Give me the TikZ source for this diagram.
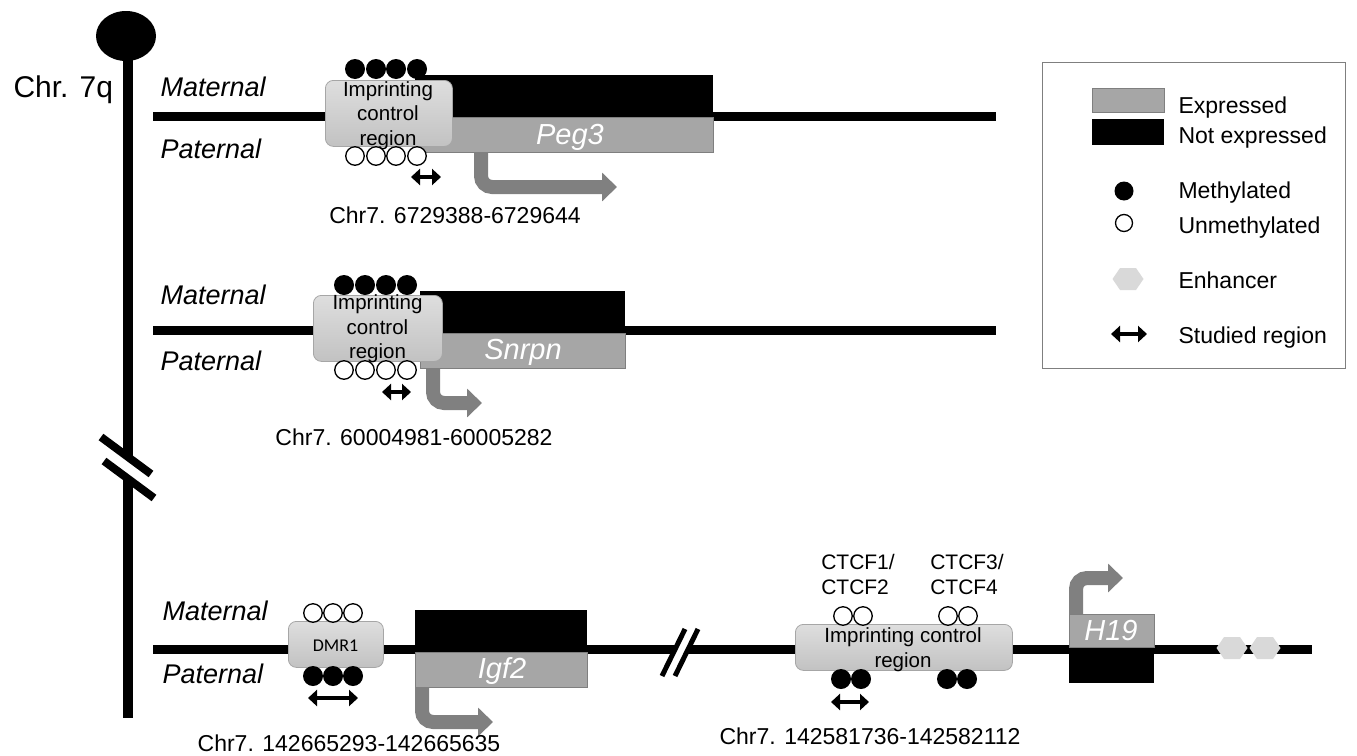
\documentclass[tikz,border=0pt]{standalone}
\usepackage{fontspec}
\setmainfont{Liberation Sans}
\newfontfamily\calibfont{Carlito}
\usetikzlibrary{arrows.meta,shapes.geometric}
\definecolor{exprc}{HTML}{A6A6A6}
\definecolor{exprb}{HTML}{7F7F7F}
\definecolor{promc}{HTML}{808080}
\definecolor{enhc}{HTML}{D9D9D9}
\definecolor{icrtop}{HTML}{DEDEDE}
\definecolor{icrbot}{HTML}{C2C2C2}
\definecolor{icrb}{HTML}{A6A6A6}
\tikzset{
  chrline/.style={line width=9pt},
  gexp/.style={fill=exprc, draw=exprb, line width=1pt, inner sep=0pt, anchor=north west},
  gnot/.style={fill=black, inner sep=0pt, anchor=north west},
  icrbox/.style={rounded corners=8pt, draw=icrb, line width=0.8pt, top color=icrtop, bottom color=icrbot, inner sep=0pt, anchor=north west},
  mdot/.style={circle, fill=black, minimum size=20pt, inner sep=0pt},
  udot/.style={circle, draw=black, fill=white, line width=1.3pt, minimum size=18.5pt, inner sep=0pt},
  studied/.style={line width=4pt, {Triangle[length=9pt,width=16pt]}-{Triangle[length=9pt,width=16pt]}},
  promarrow/.style={draw=promc, line width=14pt, rounded corners=11pt, -{Triangle[length=15pt,width=28pt]}},
  genelabel/.style={text=white, font=\fontsize{29}{29}\selectfont\itshape},
  parent/.style={font=\fontsize{27}{27}\selectfont\itshape, anchor=base west},
  icrtext/.style={font=\fontsize{20.5}{24.5}\selectfont, align=center},
  coord/.style={font=\fontsize{23}{23}\selectfont},
  legtext/.style={font=\fontsize{23}{23}\selectfont, anchor=base west},
  enhancer/.pic={\fill[enhc] (-15.5,0) -- (-8,-11) -- (8,-11) -- (15.5,0) -- (8,11) -- (-8,11) -- cycle;}
}
\begin{document}
\begin{tikzpicture}[x=1pt,y=-1pt]
\useasboundingbox (0,0) rectangle (1357,755);

% ---------------- chromosome ----------------
\coordinate (ctop) at (128,37);
\coordinate (cbot) at (128,718);
\draw[line width=10pt] (ctop) -- (cbot);
\fill (126,36) ellipse [x radius=30, y radius=25];
\fill[white] (102,438) -- (150,473) -- (153,497) -- (105,462) -- cycle;
\draw[line width=8pt] (101,437) -- (151,474);
\draw[line width=8pt] (104,461) -- (154,498);
\node[font=\fontsize{30}{30}\selectfont, anchor=base west] (chr) at (10,97) {Chr. 7q};

% ---------------- panel 1: Peg3 ----------------
\coordinate (l1a) at (153,116);
\coordinate (l1b) at (996,116);
\draw[chrline] (l1a) -- (l1b);
\node[gnot, minimum width=298pt, minimum height=42pt] (peg3m) at (415,75) {};
\node[gexp, minimum width=298pt, minimum height=35pt] (peg3p) at (415,117) {};
\foreach \x [count=\i] in {355,376,396,417} \node[mdot] (m1\i) at (\x,69) {};
\node[icrbox, minimum width=127pt, minimum height=66pt] (icr1) at (325,80) {};
\node[icrtext] (icr1t) at (388,115.5) {Imprinting\\control\\region};
\foreach \x [count=\i] in {355,376,396,417} \node[udot] (u1\i) at (\x,156) {};
\coordinate (s1a) at (411,177); \coordinate (s1b) at (441,177);
\draw[studied] (s1a) -- (s1b);
\coordinate (p1a) at (481,152); \coordinate (p1b) at (617,187);
\draw[promarrow] (p1a) |- (p1b);
\node[genelabel] (peg3l) at (570,137) {Peg3};
\node[parent] (mat1) at (157,96) {Maternal};
\node[parent] (pat1) at (157,158) {Paternal};
\node[coord] (c1) at (455,215) {Chr7. 6729388-6729644};

% ---------------- panel 2: Snrpn ----------------
\coordinate (l2a) at (153,330);
\coordinate (l2b) at (996,330);
\draw[chrline] (l2a) -- (l2b);
\node[gnot, minimum width=205pt, minimum height=41pt] (snm) at (420,291) {};
\node[gexp, minimum width=205pt, minimum height=35pt] (snp) at (420,333) {};
\foreach \x [count=\i] in {344,365,386,407} \node[mdot] (m2\i) at (\x,285) {};
\node[icrbox, minimum width=129pt, minimum height=66pt] (icr2) at (313,295) {};
\node[icrtext] (icr2t) at (377.5,329) {Imprinting\\control\\region};
\foreach \x [count=\i] in {344,365,386,407} \node[udot] (u2\i) at (\x,370) {};
\coordinate (s2a) at (382,392); \coordinate (s2b) at (411,392);
\draw[studied] (s2a) -- (s2b);
\coordinate (p2a) at (433,368); \coordinate (p2b) at (482,403);
\draw[promarrow] (p2a) |- (p2b);
\node[genelabel] (snl) at (523,352) {Snrpn};
\node[parent] (mat2) at (157,304) {Maternal};
\node[parent] (pat2) at (157,370) {Paternal};
\node[coord] (c2) at (414,437) {Chr7. 60004981-60005282};

% ---------------- panel 3: Igf2 / H19 ----------------
\coordinate (l3a) at (153,649);
\coordinate (l3b) at (1312,649);
\draw[chrline] (l3a) -- (l3b);
\fill[white] (663,674) -- (685,631) -- (698,631) -- (675,674) -- cycle;
\draw[line width=5pt] (662,676) -- (685,629);
\draw[line width=5pt] (675,676) -- (698,629);
% DMR1
\node[icrbox, minimum width=95pt, minimum height=46pt] (dmr) at (288,621) {};
\node[font=\calibfont\fontsize{18}{18}\selectfont] (dmrt) at (335.5,646) {DMR1};
\foreach \x [count=\i] in {313,333,353} \node[udot] (u3\i) at (\x,613) {};
\foreach \x [count=\i] in {313,333,353} \node[mdot] (m3\i) at (\x,676) {};
\coordinate (s3a) at (308,698); \coordinate (s3b) at (358,698);
\draw[studied] (s3a) -- (s3b);
% Igf2
\node[gnot, minimum width=172pt, minimum height=40pt] (igm) at (415,610) {};
\node[gexp, minimum width=172pt, minimum height=35pt] (igp) at (415,652) {};
\coordinate (p3a) at (422,687); \coordinate (p3b) at (493,722);
\draw[promarrow] (p3a) |- (p3b);
\node[genelabel] (igl) at (502,671) {Igf2};
\node[parent] (mat3) at (159,620) {Maternal};
\node[parent] (pat3) at (159,683) {Paternal};
\node[coord] (c3) at (349,743) {Chr7. 142665293-142665635};
% ICR H19
\node[icrbox, minimum width=217pt, minimum height=46pt] (icr3) at (795,624) {};
\node[icrtext] (icr3t) at (903,649.5) {Imprinting control\\region};
\node[font=\fontsize{21}{25}\selectfont, align=left] (ct1) at (858,574) {CTCF1/\\CTCF2};
\node[font=\fontsize{21}{25}\selectfont, align=left] (ct2) at (967,574) {CTCF3/\\CTCF4};
\foreach \x [count=\i] in {843,863,948,968} \node[udot] (u4\i) at (\x,616) {};
\foreach \x [count=\i] in {841,861,947,967} \node[mdot] (m4\i) at (\x,679) {};
\coordinate (s4a) at (831,702); \coordinate (s4b) at (869,702);
\draw[studied] (s4a) -- (s4b);
\node[coord] (c4) at (870,736) {Chr7. 142581736-142582112};
% H19
\coordinate (p4a) at (1076,614); \coordinate (p4b) at (1123,578);
\draw[promarrow] (p4a) |- (p4b);
\node[gexp, minimum width=85pt, minimum height=33pt] (h19e) at (1069,614) {};
\node[gnot, minimum width=85pt, minimum height=35pt] (h19n) at (1069,648) {};
\node[genelabel] (h19l) at (1111,631) {H19};
\pic at (1232,648) {enhancer};
\pic at (1265,648) {enhancer};

% ---------------- legend ----------------
\node[draw=exprb, line width=1pt, minimum width=303pt, minimum height=306pt, inner sep=0pt, anchor=north west] (leg) at (1042,62) {};
\node[gexp, minimum width=72pt, minimum height=24pt] (lge) at (1092,88) {};
\node[gnot, minimum width=72pt, minimum height=26pt] (lgn) at (1092,119) {};
\node[legtext] (t1) at (1175,113) {Expressed};
\node[legtext] (t2) at (1175,143) {Not expressed};
\node[mdot, minimum size=19pt] (lgm) at (1124,191) {};
\node[legtext] (t3) at (1175,198) {Methylated};
\node[udot, minimum size=17pt] (lgu) at (1124,223) {};
\node[legtext] (t4) at (1175,233) {Unmethylated};
\pic at (1128,279) {enhancer};
\node[legtext] (t5) at (1175,288) {Enhancer};
\coordinate (lsa) at (1111,334); \coordinate (lsb) at (1147,334);
\draw[studied] (lsa) -- (lsb);
\node[legtext] (t6) at (1175,343) {Studied region};
\end{tikzpicture}
\end{document}
